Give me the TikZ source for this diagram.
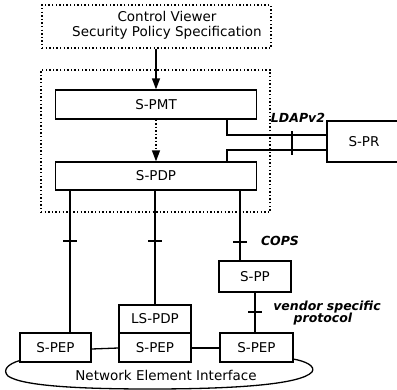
\documentclass[tikz,border=0pt]{standalone}
\usepackage{fontspec}
\setmainfont{DejaVu Sans}
\usetikzlibrary{calc,arrows.meta}
\begin{document}
\begin{tikzpicture}[x=1pt,y=-1pt,
  font=\fontsize{13.5}{15}\selectfont,
  box/.style={draw,line width=1.3pt,inner sep=0pt,minimum height=#1},
  box/.default=29pt,
  dotbox/.style={draw,line width=1.4pt,dash pattern=on 1.4pt off 2.2pt,inner sep=0pt},
  wire/.style={line width=1.3pt},
  tick/.style={line width=1.3pt},
  lab/.style={font=\fontsize{12.5}{14}\selectfont\bfseries\itshape,inner sep=0pt},
  tip/.style={-{Triangle[length=11pt,width=8pt]}}]
\clip (0,0) rectangle (397,389);
% dotted boxes
\node[dotbox,minimum width=229pt,minimum height=43pt] (cv) at (156.5,26.5) {};
\node[align=center,inner sep=0pt] (cvt) at (167,25) {Control Viewer\\Security Policy Specification};
\node[dotbox,minimum width=229pt,minimum height=142pt] (zone) at (155.5,141) {};
% main boxes
\node[box,minimum width=201pt] (pmt) at (156,104.5) {S-PMT};
\node[box=28pt,minimum width=201pt] (pdp) at (156,176) {S-PDP};
\node[box=41pt,minimum width=80pt,text width=70pt,align=center] (spr) at (367,141.5) {\hspace*{-6pt}S-PR};
\node[box,minimum width=71pt] (pepL) at (55.5,347.5) {S-PEP};
\node[box=28pt,minimum width=72pt] (lspdp) at (155,319) {LS-PDP};
\node[box,minimum width=72pt] (pepM) at (155,347.5) {S-PEP};
\node[box=31pt,minimum width=72pt] (spp) at (255,276.5) {S-PP};
\node[box,minimum width=73pt] (pepR) at (256.5,347.5) {S-PEP};
% labels
\node[lab] (ldap) at (298,118) {LDAPv2};
\node[lab] (cops) at (280,241) {COPS};
\node[lab,align=center] (vsp) at (327,313) {vendor specific\\[-2pt]\hspace*{-8pt}protocol};
\node[inner sep=0pt] (nei) at (166,375) {Network Element Interface};
% arrows
\draw[wire,tip] (cv.south -| pmt) -- (pmt.north);
\draw[wire,tip,dash pattern=on 1.5pt off 2pt] (pmt.south) -- (pdp.north);
% LDAP
\coordinate (lx) at (227,0);
\coordinate (ly1) at (0,135);
\coordinate (ly2) at (0,150);
\draw[wire] (pmt.south -| lx) -- (lx |- ly1) -- (spr.west |- ly1);
\draw[wire] (pdp.north -| lx) -- (lx |- ly2) -- (spr.west |- ly2);
\coordinate (tl) at (292,131);
\draw[tick] (tl) -- ++(0,24);
% verticals
\coordinate (v1) at (70,0);
\coordinate (v2) at (155,0);
\coordinate (v3) at (240,0);
\coordinate (v4) at (255,0);
\draw[wire] (pdp.south -| v1) -- (pepL.north -| v1);
\draw[wire] (pdp.south -| v2) -- (lspdp.north);
\draw[wire] (pdp.south -| v3) -- (spp.north -| v3);
\draw[wire] (spp.south -| v4) -- (pepR.north -| v4);
\coordinate (t1) at (63,241);
\coordinate (t2) at (148,241);
\coordinate (t3) at (233,242);
\coordinate (t4) at (248,312);
\draw[tick] (t1) -- ++(14,0);
\draw[tick] (t2) -- ++(14,0);
\draw[tick] (t3) -- ++(14,0);
\draw[tick] (t4) -- ++(14,0);
% PEP links
\draw[wire] (pepL.east |- 0,349) -- (pepM.west |- 0,348);
\draw[wire] (pepM.east |- 0,348) -- (pepR.west |- 0,348);
% interface outline
\draw[wire] (pepL.south west) ++(0,-2) .. controls (8,364) and (2,370) .. (8,376)
  .. controls (22,386) and (80,389) .. (150,389)
  .. controls (230,389) and (300,385) .. (312,372)
  .. controls (316,366) and (305,361) .. (293,359);
\end{tikzpicture}
\end{document}
